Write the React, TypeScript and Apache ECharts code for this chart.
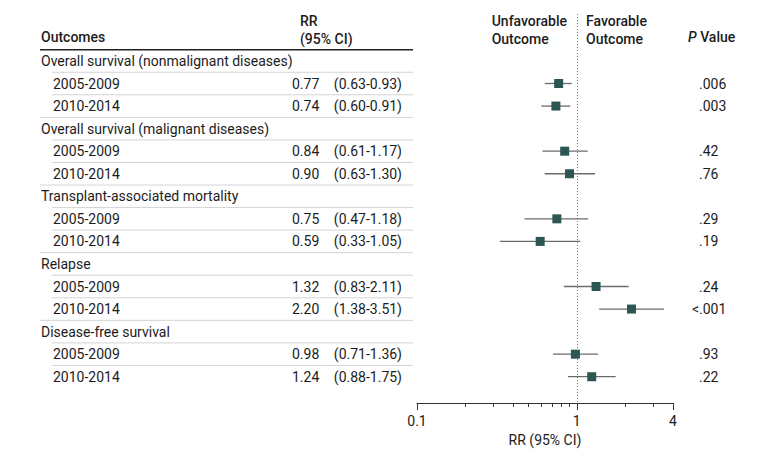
import React, { useEffect, useRef } from "react";
import * as echarts from "echarts";

const groupNames = [
  "Overall survival (nonmalignant diseases)",
  "Overall survival (malignant diseases)",
  "Transplant-associated mortality",
  "Relapse",
  "Disease-free survival",
];
const periods = ["2005-2009", "2010-2014"];
const rrValues = [0.77, 0.74, 0.84, 0.9, 0.75, 0.59, 1.32, 2.2, 0.98, 1.24];
const lowerCI = [0.63, 0.6, 0.61, 0.63, 0.47, 0.33, 0.83, 1.38, 0.71, 0.88];
const upperCI = [0.93, 0.91, 1.17, 1.3, 1.18, 1.05, 2.11, 3.51, 1.36, 1.75];
const pValues = [".006", ".003", ".42", ".76", ".29", ".19", ".24", "<.001", ".93", ".22"];
const xTickLabels = [0.1, 1, 4];
const xMinorTicks = [0.2, 0.3, 0.4, 0.5, 0.6, 0.7, 0.8, 0.9, 2, 3];

const FONT = "Roboto, 'Noto Sans', sans-serif";
const TEXT = "#1c1c1c";

type Row = { row: number; kind: "group" | "item"; label: string; idx: number; last: boolean };

const tableRows: Row[] = [];
groupNames.forEach((g, gi) => {
  tableRows.push({ row: gi * 3, kind: "group", label: g, idx: -1, last: false });
  periods.forEach((p, pi) => {
    tableRows.push({ row: gi * 3 + 1 + pi, kind: "item", label: p, idx: gi * 2 + pi, last: pi === 1 });
  });
});

const itemRow = (i: number) => Math.floor(i / 2) * 3 + 1 + (i % 2);

export default function App() {
  const ref = useRef<HTMLDivElement>(null);
  useEffect(() => {
    if (!ref.current) return;
    const chart = echarts.init(ref.current, undefined, { renderer: "svg" });
    const lastRow = tableRows.length - 1;
    const option: any = {
      animation: false,
      backgroundColor: "#ffffff",
      textStyle: { fontFamily: FONT },
      grid: { left: 417, right: 107, top: 14, bottom: 56 },
      xAxis: [
        {
          type: "log",
          logBase: 10,
          min: 0.1,
          max: 4,
          position: "bottom",
          axisLine: { show: true, onZero: false, lineStyle: { color: "#333", width: 1 } },
          axisTick: { show: true, length: 7, customValues: xTickLabels, lineStyle: { color: "#333" } },
          axisLabel: {
            show: true,
            customValues: xTickLabels,
            margin: 11,
            color: TEXT,
            fontSize: 14,
            fontFamily: FONT,
            formatter: (v: number) => String(v),
          },
          splitLine: { show: false },
          minorTick: { show: false },
          name: "RR (95% CI)",
          nameLocation: "middle",
          nameGap: 29,
          nameTextStyle: { color: TEXT, fontSize: 14, fontFamily: FONT },
        },
        {
          type: "log",
          logBase: 10,
          min: 0.1,
          max: 4,
          position: "bottom",
          gridIndex: 0,
          axisLine: { show: false, onZero: false },
          axisTick: { show: true, length: 4, customValues: xMinorTicks, lineStyle: { color: "#333" } },
          axisLabel: { show: false },
          splitLine: { show: false },
        },
      ],
      yAxis: {
        type: "value",
        inverse: true,
        min: -2.082,
        max: 15.165,
        show: false,
        splitLine: { show: false },
      },
      graphic: [
        { type: "text", left: 41, top: 30, style: { text: "Outcomes", fill: TEXT, font: `500 14px ${FONT}` } },
        { type: "text", left: 300, top: 12, style: { text: "RR\n(95% CI)", fill: TEXT, font: `500 14px ${FONT}`, lineHeight: 18 } },
        { type: "text", right: 213, top: 12, style: { text: "Unfavorable\nOutcome", fill: TEXT, font: `500 14px ${FONT}`, lineHeight: 18, align: "right" } },
        { type: "text", left: 586, top: 12, style: { text: "Favorable\nOutcome", fill: TEXT, font: `500 14px ${FONT}`, lineHeight: 18 } },
        {
          type: "text",
          left: 688,
          top: 30,
          style: {
            text: "{i|P} Value",
            fill: TEXT,
            font: `500 14px ${FONT}`,
            rich: { i: { fontStyle: "italic", fontWeight: 500, fontSize: 14, fontFamily: FONT, fill: TEXT } },
          },
        },
      ],
      series: [
        {
          type: "custom",
          name: "table",
          xAxisIndex: 0,
          data: tableRows.map((r) => [1, r.row]),
          encode: { x: 0, y: 1 },
          silent: true,
          renderItem: (params: any, api: any) => {
            const r = tableRows[params.dataIndex];
            const y = api.coord([1, r.row])[1];
            const yb = api.coord([1, r.row + 0.5])[1];
            const yt = api.coord([1, r.row - 0.5])[1];
            const children: any[] = [];
            children.push({
              type: "text",
              style: {
                text: r.label,
                x: r.kind === "group" ? 41 : 53,
                y,
                fill: TEXT,
                font: `14px ${FONT}`,
                align: "left",
                verticalAlign: "middle",
              },
            });
            if (r.row === 0) {
              children.push({
                type: "line",
                shape: { x1: 40, y1: yt, x2: 413, y2: yt },
                style: { stroke: "#222", lineWidth: 1.5 },
              });
            }
            if (r.row !== lastRow) {
              const x1 = r.last ? 40 : 52;
              children.push({
                type: "line",
                shape: { x1, y1: yb, x2: 413, y2: yb },
                style: { stroke: "#d4d4d4", lineWidth: 1 },
              });
            }
            if (r.kind === "item") {
              const i = r.idx;
              children.push({
                type: "text",
                style: {
                  text: rrValues[i].toFixed(2),
                  x: 292,
                  y,
                  fill: TEXT,
                  font: `14px ${FONT}`,
                  align: "left",
                  verticalAlign: "middle",
                },
              });
              children.push({
                type: "text",
                style: {
                  text: `(${lowerCI[i].toFixed(2)}-${upperCI[i].toFixed(2)})`,
                  x: 402,
                  y,
                  fill: TEXT,
                  font: `14px ${FONT}`,
                  align: "right",
                  verticalAlign: "middle",
                },
              });
              const p = pValues[i];
              const dot = p.indexOf(".");
              const pre = p.slice(0, dot);
              const post = p.slice(dot);
              if (pre) {
                children.push({
                  type: "text",
                  style: { text: pre, x: 699, y, fill: TEXT, font: `14px ${FONT}`, align: "right", verticalAlign: "middle" },
                });
              }
              children.push({
                type: "text",
                style: { text: post, x: 699, y, fill: TEXT, font: `14px ${FONT}`, align: "left", verticalAlign: "middle" },
              });
            }
            return { type: "group", children };
          },
          z: 1,
        },
        {
          type: "custom",
          name: "ci",
          xAxisIndex: 0,
          data: rrValues.map((_, i) => [lowerCI[i], upperCI[i], itemRow(i)]),
          encode: { x: [0, 1], y: 2 },
          silent: true,
          renderItem: (params: any, api: any) => {
            const p1 = api.coord([api.value(0), api.value(2)]);
            const p2 = api.coord([api.value(1), api.value(2)]);
            return {
              type: "line",
              shape: { x1: p1[0], y1: p1[1], x2: p2[0], y2: p2[1] },
              style: { stroke: "#6b6b6b", lineWidth: 1.3 },
            };
          },
          z: 3,
        },
        {
          type: "scatter",
          name: "rr",
          xAxisIndex: 0,
          data: rrValues.map((v, i) => [v, itemRow(i)]),
          symbol: "rect",
          symbolSize: 9,
          itemStyle: { color: "#2b5653", opacity: 1 },
          silent: true,
          z: 4,
          markLine: {
            silent: true,
            symbol: "none",
            label: { show: false },
            lineStyle: { type: [1, 2], color: "#777", width: 1 },
            data: [{ xAxis: 1 }],
            z: 2,
          },
        },
      ],
    };
    chart.setOption(option);
    return () => chart.dispose();
  }, []);
  return <div ref={ref} style={{ position: "fixed", left: 0, top: 0, width: 780, height: 459 }} />;
}
